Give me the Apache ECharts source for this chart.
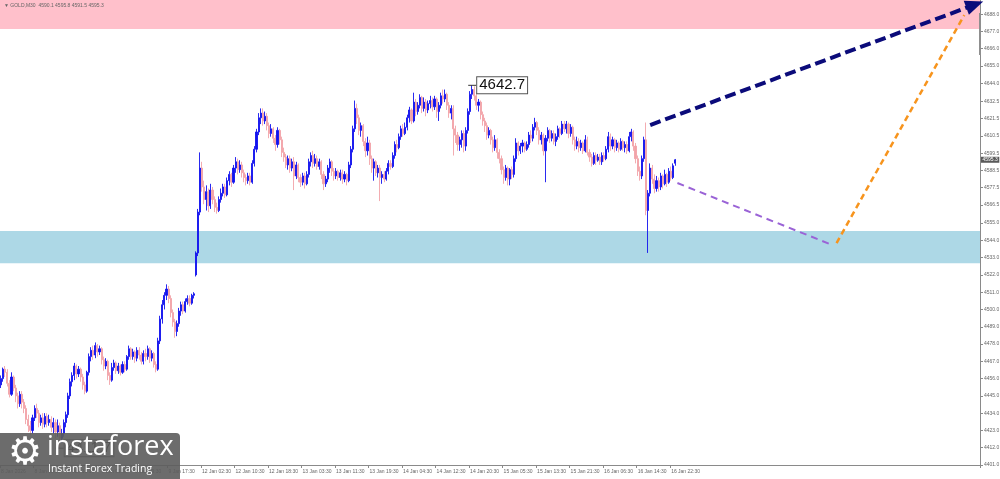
<!DOCTYPE html>
<html>
<head>
<meta charset="utf-8">
<title>GOLD M30</title>
<script src="https://cdn.jsdelivr.net/npm/echarts@6/dist/echarts.min.js"></script>
<style>
html, body { margin: 0; padding: 0; background: #fff; }
#chart { width: 1000px; height: 479px; }
</style>
</head>
<body>
<div id="chart"></div>
<script>
// M30 candles, one array per trading day: [open, close, low, high]
var thu8 = [
  [4452,4456,4450,4458],[4456,4462,4454,4463],[4462,4460,4457,4464],[4460,4453,4451,4462],
  [4453,4446,4444,4455],[4446,4457,4445,4460],[4457,4450,4448,4458],[4450,4445,4441,4452],
  [4445,4440,4437,4447],[4440,4446,4438,4448],[4446,4441,4437,4448],[4441,4437,4434,4443],
  [4437,4430,4427,4439],[4430,4426,4422,4433],[4426,4423,4420,4429],[4423,4431,4421,4433],
  [4431,4437,4429,4439],[4437,4434,4431,4440],[4434,4428,4425,4436],[4428,4431,4426,4433],
  [4431,4427,4424,4434],[4427,4432,4425,4434],[4432,4428,4425,4434],[4428,4430,4426,4433],
  [4430,4425,4422,4432],[4425,4428,4421,4431],[4428,4422,4418,4430],[4422,4426,4419,4430],
  [4426,4418,4411.7,4428],[4418,4421,4415,4424],[4421,4428,4419,4430],[4428,4433,4425,4435],
  [4433,4445,4431,4447],[4445,4454,4443,4456],[4454,4458,4451,4460],[4458,4464,4455,4466],
  [4464,4459,4456,4465],[4459,4462,4457,4464],[4462,4457,4454,4463],[4457,4452,4449,4459],
  [4452,4448,4446,4454],[4448,4460,4447,4461],[4460,4470,4458,4472],[4470,4474,4467,4476],
  [4474,4471,4468,4477],[4471,4477,4469,4479],[4477,4473,4470,4478]
];
var fri9 = [
  [4473,4475,4471,4477],[4475,4468,4465,4476],[4468,4464,4461,4470],[4464,4467,4462,4469],
  [4467,4458,4455,4468],[4458,4455,4452,4460],[4455,4463,4454,4466],[4463,4466,4461,4468],
  [4466,4461,4459,4467],[4461,4464,4459,4466],[4464,4460,4458,4465],[4460,4465,4459,4467],
  [4465,4462,4460,4467],[4462,4470,4461,4471],[4470,4475,4468,4477],[4475,4470,4468,4476],
  [4470,4473,4468,4475],[4473,4469,4466,4474],[4469,4474,4467,4476],[4474,4471,4468,4476],
  [4471,4467,4465,4473],[4467,4472,4465,4474],[4472,4470,4467,4475],[4470,4475,4468,4477],
  [4475,4469,4466,4476],[4469,4472,4467,4474],[4472,4465,4463,4473],[4465,4462,4460,4467],
  [4462,4480,4461,4482],[4480,4494,4478,4496],[4494,4503,4491,4506],[4503,4509,4500,4511],
  [4509,4513,4506,4516],[4513,4507,4504,4515],[4507,4498,4495,4509],[4498,4492,4489,4500],
  [4492,4486,4482,4494],[4486,4491,4483,4493],[4491,4499,4489,4501],[4499,4503,4496,4505],
  [4503,4499,4497,4505],[4499,4505,4498,4507],[4505,4507,4503,4509],[4507,4504,4502,4509],
  [4504,4509,4503,4510],[4509,4510,4507,4511]
];
var mon12 = [
  [4522,4536,4521,4537],[4536,4562,4534,4564],[4562,4590,4560,4600],[4590,4578,4575,4594],
  [4578,4570,4567,4582],[4570,4575,4563,4579],[4575,4566,4562,4577],[4566,4576,4564,4580],
  [4576,4570,4567,4578],[4570,4565,4562,4572],[4565,4563,4561,4568],[4563,4570,4562,4572],
  [4570,4574,4568,4577],[4574,4578,4572,4580],[4578,4573,4571,4580],[4573,4582,4572,4584],
  [4582,4586,4579,4588],[4586,4581,4578,4587],[4581,4590,4580,4592],[4590,4594,4587,4597],
  [4594,4589,4586,4596],[4589,4592,4587,4595],[4592,4587,4584,4594],[4587,4584,4581,4589],
  [4584,4582,4579,4586],[4582,4585,4580,4587],[4585,4581,4579,4587],[4581,4593,4580,4595],
  [4593,4602,4591,4604],[4602,4613,4600,4615],[4613,4622,4611,4625],[4622,4625,4618,4628],
  [4625,4620,4617,4628],[4620,4623,4618,4626],[4623,4617,4614,4625],[4617,4612,4609,4619],
  [4612,4615,4610,4618],[4615,4609,4606,4616],[4609,4605,4601,4611],[4605,4614,4603,4616],
  [4614,4608,4605,4615],[4608,4600,4597,4610],[4600,4597,4594,4603],[4597,4592,4590,4599],
  [4592,4596,4589,4598],[4596,4590,4587,4598]
];
var tue13 = [
  [4590,4594,4588,4596],[4594,4585,4576,4597],[4585,4592,4583,4594],[4592,4584,4581,4593],
  [4584,4581,4578,4586],[4581,4585,4579,4587],[4585,4580,4577,4587],[4580,4586,4579,4588],
  [4586,4594,4584,4596],[4594,4598,4591,4600],[4598,4593,4590,4601],[4593,4596,4591,4599],
  [4596,4591,4589,4598],[4591,4594,4589,4596],[4594,4586,4583,4595],[4586,4580,4576,4588],
  [4580,4583,4578,4585],[4583,4590,4581,4592],[4590,4594,4587,4596],[4594,4588,4585,4595],
  [4588,4585,4582,4590],[4585,4588,4583,4590],[4588,4584,4582,4589],[4584,4587,4582,4589],
  [4587,4583,4580,4589],[4583,4586,4581,4588],[4586,4582,4579,4587],[4582,4592,4581,4594],
  [4592,4602,4590,4604],[4602,4615,4600,4617],[4615,4628,4613,4633],[4628,4622,4618,4631],
  [4622,4614,4611,4624],[4614,4617,4610,4619],[4617,4607,4604,4618],[4607,4601,4597,4609],
  [4601,4606,4598,4610],[4606,4596,4592,4608],[4596,4590,4587,4598],[4590,4594,4582,4596],
  [4594,4587,4585,4595],[4587,4590,4584,4592],[4590,4584,4569,4592],[4584,4586,4580,4588],
  [4586,4583,4581,4588],[4583,4588,4582,4590]
];
var wed14 = [
  [4588,4593,4586,4595],[4593,4591,4589,4595],[4591,4598,4590,4600],[4598,4605,4596,4607],
  [4605,4603,4600,4608],[4603,4610,4602,4612],[4610,4615,4608,4617],[4615,4612,4610,4618],
  [4612,4616,4611,4619],[4616,4622,4614,4624],[4622,4627,4619,4629],[4627,4620,4618,4628],
  [4620,4632,4619,4638],[4632,4626,4623,4634],[4626,4630,4624,4632],[4630,4635,4628,4637],
  [4635,4628,4625,4636],[4628,4632,4626,4635],[4632,4627,4623,4634],[4627,4631,4625,4633],
  [4631,4633,4628,4636],[4633,4629,4626,4635],[4629,4634,4627,4636],[4634,4626,4622,4635],
  [4626,4630,4620,4632],[4630,4636,4628,4638],[4636,4634,4631,4640],[4634,4637,4632,4640],
  [4637,4630,4627,4638],[4630,4625,4622,4632],[4625,4628,4621,4630],[4628,4615,4598,4630],
  [4615,4611,4606,4617],[4611,4605,4601,4613],[4605,4608,4601,4610],[4608,4612,4603,4614],
  [4612,4604,4600,4614],[4604,4614,4601,4616],[4614,4626,4612,4628],[4626,4637,4624,4639],
  [4637,4640,4634,4642.7],[4640,4636,4633,4642],[4636,4630,4627,4638],[4630,4632,4626,4634],
  [4632,4624,4621,4633],[4624,4620,4617,4626]
];
var thu15 = [
  [4620,4617,4613,4622],[4617,4611,4608,4619],[4611,4614,4609,4616],[4614,4608,4605,4615],
  [4608,4603,4600,4610],[4603,4608,4601,4611],[4608,4600,4596,4609],[4600,4596,4593,4602],
  [4596,4589,4586,4598],[4589,4584,4580,4591],[4584,4590,4582,4592],[4590,4583,4579,4591],
  [4583,4589,4579,4590],[4589,4586,4583,4591],[4586,4596,4584,4598],[4596,4606,4594,4609],
  [4606,4601,4598,4607],[4601,4604,4599,4606],[4604,4606,4600,4608],[4606,4602,4600,4607],
  [4602,4605,4601,4607],[4605,4611,4603,4613],[4611,4609,4606,4614],[4609,4616,4607,4618],
  [4616,4619,4614,4622],[4619,4614,4611,4620],[4614,4608,4605,4616],[4608,4611,4605,4613],
  [4611,4601,4598,4612],[4601,4609,4581,4611],[4609,4614,4607,4616],[4614,4609,4606,4615],
  [4609,4612,4607,4614],[4612,4607,4605,4614],[4607,4610,4604,4612],[4610,4615,4608,4617],
  [4615,4612,4609,4616],[4612,4618,4611,4620],[4618,4615,4613,4620],[4615,4618,4612,4620],
  [4618,4612,4609,4619],[4612,4616,4610,4618],[4616,4608,4605,4617],[4608,4604,4601,4610],
  [4604,4607,4602,4610],[4607,4603,4600,4609]
];
var fri16 = [
  [4603,4606,4601,4608],[4606,4601,4599,4607],[4601,4608,4600,4611],[4608,4600,4598,4610],
  [4600,4597,4594,4602],[4597,4593,4591,4599],[4593,4598,4592,4600],[4598,4595,4592,4600],
  [4595,4597,4594,4599],[4597,4594,4592,4599],[4594,4598,4592,4600],[4598,4596,4594,4600],
  [4596,4602,4595,4604],[4602,4610,4600,4613],[4610,4604,4601,4612],[4604,4608,4602,4610],
  [4608,4603,4600,4609],[4603,4606,4601,4608],[4606,4602,4600,4607],[4602,4607,4601,4609],
  [4607,4603,4601,4608],[4603,4605,4600,4607],[4605,4601,4599,4607],[4601,4610,4600,4613],
  [4610,4613,4607,4615],[4613,4604,4601,4614],[4604,4596,4593,4606],[4596,4588,4585,4598],
  [4588,4585,4582,4591],[4585,4596,4583,4598],[4596,4608,4594,4610],[4608,4563,4560,4619],
  [4563,4574,4536,4576],[4574,4590,4572,4593],[4590,4583,4580,4592],[4583,4577,4574,4586],
  [4577,4582,4575,4585],[4582,4578,4575,4584],[4578,4585,4576,4587],[4585,4580,4577,4586],
  [4580,4586,4579,4589],[4586,4581,4578,4587],[4581,4588,4580,4590],[4588,4584,4582,4591],
  [4584,4591.5,4583,4593],[4593.1,4595.3,4591.5,4595.8]
];

var totalBars = 468;
var tickIdx = [0,16,32,48,64,80,96,112,128,144,160,176,192,208,224,240,256,272,288,304,320];
var tickText = ['8 Jan 2026','8 Jan 08:30','8 Jan 16:30','9 Jan 01:30','9 Jan 09:30','9 Jan 17:30',
  '12 Jan 02:30','12 Jan 10:30','12 Jan 18:30','13 Jan 03:30','13 Jan 11:30','13 Jan 19:30',
  '14 Jan 04:30','14 Jan 12:30','14 Jan 20:30','15 Jan 05:30','15 Jan 13:30','15 Jan 21:30',
  '16 Jan 06:30','16 Jan 14:30','16 Jan 22:30'];
var yTicks = [4688.0,4677.0,4666.0,4655.0,4644.0,4632.5,4621.5,4610.5,4599.5,4588.5,4577.5,4566.5,
  4555.0,4544.0,4533.0,4522.0,4511.0,4500.0,4489.0,4478.0,4467.0,4456.0,4445.0,4434.0,4423.0,4412.0,4401.0];
var yMin = 4401, yMax = 4697;

var resistZone = [4678.5, 4697];
var supportZone = [4529.5, 4550];
var priceNotes = [[225, 4642.7], [28, 4411.7]];
var lastPrice = 4595.3;
// wave forecast: [barIndex, price] start and end
var mainTarget = [[310, 4617.4], [465, 4694]];
var pullback = [[323, 4580.5], [397, 4541]];
var rebound = [[399, 4542.3], [460, 4687.4]];

var candles = thu8.concat(fri9, mon12, tue13, wed14, thu15, fri16);
var cats = [];
for (var i = 0; i < totalBars; i++) cats.push(String(i));

var myChart = echarts.init(document.getElementById('chart'));
var small = { fontSize: 5, color: '#666', fontFamily: 'Liberation Sans' };

function forecast(pts, color, width, dash, arrow) {
  return {
    type: 'line',
    data: [],
    z: 5,
    markLine: {
      silent: true,
      animation: false,
      symbol: ['none', arrow ? 'triangle' : 'none'],
      symbolSize: arrow ? [15, 18] : 0,
      label: { show: false },
      lineStyle: { color: color, width: width, type: dash, opacity: 1 },
      emphasis: { disabled: true },
      data: [[{ coord: pts[0] }, { coord: pts[1] }]]
    }
  };
}

var option = {
  animation: false,
  backgroundColor: '#fff',
  grid: { left: 0, right: 20, top: 0, bottom: 14, containLabel: false, outerBoundsMode: 'none' },
  xAxis: {
    type: 'category',
    data: cats,
    boundaryGap: true,
    axisLine: { show: true, lineStyle: { color: '#8a8a8a', width: 1 } },
    axisTick: {
      show: true, length: 3, lineStyle: { color: '#8a8a8a' },
      interval: function (idx) { return tickIdx.indexOf(idx) >= 0; }
    },
    axisLabel: {
      interval: function (idx) { return tickIdx.indexOf(idx) >= 0; },
      formatter: function (v, idx) { return tickText[tickIdx.indexOf(Number(v))]; },
      align: 'left', margin: 4, hideOverlap: false,
      fontSize: small.fontSize, color: small.color, fontFamily: small.fontFamily
    },
    splitLine: { show: false }
  },
  yAxis: {
    type: 'value',
    position: 'right',
    min: yMin, max: yMax,
    scale: true,
    axisLine: { show: true, lineStyle: { color: '#8a8a8a', width: 1 } },
    axisTick: { show: true, length: 3, customValues: yTicks, lineStyle: { color: '#8a8a8a' } },
    axisLabel: {
      customValues: yTicks,
      formatter: function (v) { return v.toFixed(1); },
      margin: 4,
      fontSize: small.fontSize, color: small.color, fontFamily: small.fontFamily
    },
    splitLine: { show: false }
  },
  graphic: [
    { type: 'text', left: 4, top: 3, z: 10,
      style: { text: '\u25BC GOLD,M30  4590.1 4595.8 4591.5 4595.3', fontSize: 5, fill: '#666', fontFamily: 'Liberation Sans' } },
    { type: 'rect', left: 979, top: 13, z: 10, shape: { width: 2, height: 42 }, style: { fill: '#8f8f8f' } },
    { type: 'group', left: 0, top: 433, zlevel: 2, z: 100, children: [
      { type: 'rect', zlevel: 2, shape: { x: 0, y: 0, width: 180, height: 46, r: [0, 4, 0, 0] }, style: { fill: 'rgba(92,92,92,0.9)' } },
      { type: 'text', zlevel: 2, x: 8, y: 2, style: { text: '\u2699', fontSize: 38, fill: '#fff', fontFamily: 'DejaVu Sans' } },
      { type: 'text', zlevel: 2, x: 47, y: 1, style: { text: 'instaforex', fontSize: 27, fill: '#fff', fontFamily: 'Open Sans' } },
      { type: 'text', zlevel: 2, x: 48, y: 31, style: { text: 'Instant Forex Trading', fontSize: 10.5, fill: '#fff', fontFamily: 'Open Sans' } }
    ] }
  ],
  series: [
    {
      name: 'zones',
      type: 'line',
      data: [],
      z: 1,
      markArea: {
        silent: true,
        animation: false,
        data: [
          [{ yAxis: resistZone[0], itemStyle: { color: '#ffc0cb', opacity: 1 } }, { yAxis: resistZone[1] }],
          [{ yAxis: supportZone[0], itemStyle: { color: '#add8e6', opacity: 1 } }, { yAxis: supportZone[1] }]
        ]
      }
    },
    {
      name: 'GOLD,M30',
      type: 'candlestick',
      data: candles,
      z: 3,
      barWidth: 1.6,
      itemStyle: {
        color: '#1212ee', color0: '#f2a3a8',
        borderColor: '#1212ee', borderColor0: '#f2a3a8',
        borderWidth: 0.9
      },
      markPoint: {
        silent: true,
        animation: false,
        symbol: 'rect',
        symbolSize: [8, 1],
        itemStyle: { color: '#333' },
        label: {
          show: true, position: 'right', distance: 1,
          formatter: function (p) { return p.value.toFixed(1); },
          fontSize: 15, color: '#111', fontFamily: 'Liberation Sans',
          backgroundColor: '#fff', borderColor: '#555', borderWidth: 1, padding: [1, 2, 0, 2]
        },
        data: priceNotes.map(function (p) { return { coord: p, value: p[1] }; })
      },
      markLine: {
        silent: true,
        animation: false,
        symbol: ['none', 'none'],
        lineStyle: { color: 'rgba(0,0,0,0)', width: 0 },
        label: {
          show: true, position: 'end', distance: 1,
          formatter: lastPrice.toFixed(1),
          fontSize: 5, color: '#fff', fontFamily: 'Liberation Sans',
          backgroundColor: '#5a5a5a', padding: [1, 1.5, 0, 1.5]
        },
        data: [{ yAxis: lastPrice }]
      }
    },
    forecast(mainTarget, '#0b0b7a', 4, [11, 5], true),
    forecast(pullback, '#9a63d6', 2, [7, 5], false),
    forecast(rebound, '#f7941d', 2.5, [6, 4], false)
  ]
};

myChart.setOption(option);
</script>
</body>
</html>
